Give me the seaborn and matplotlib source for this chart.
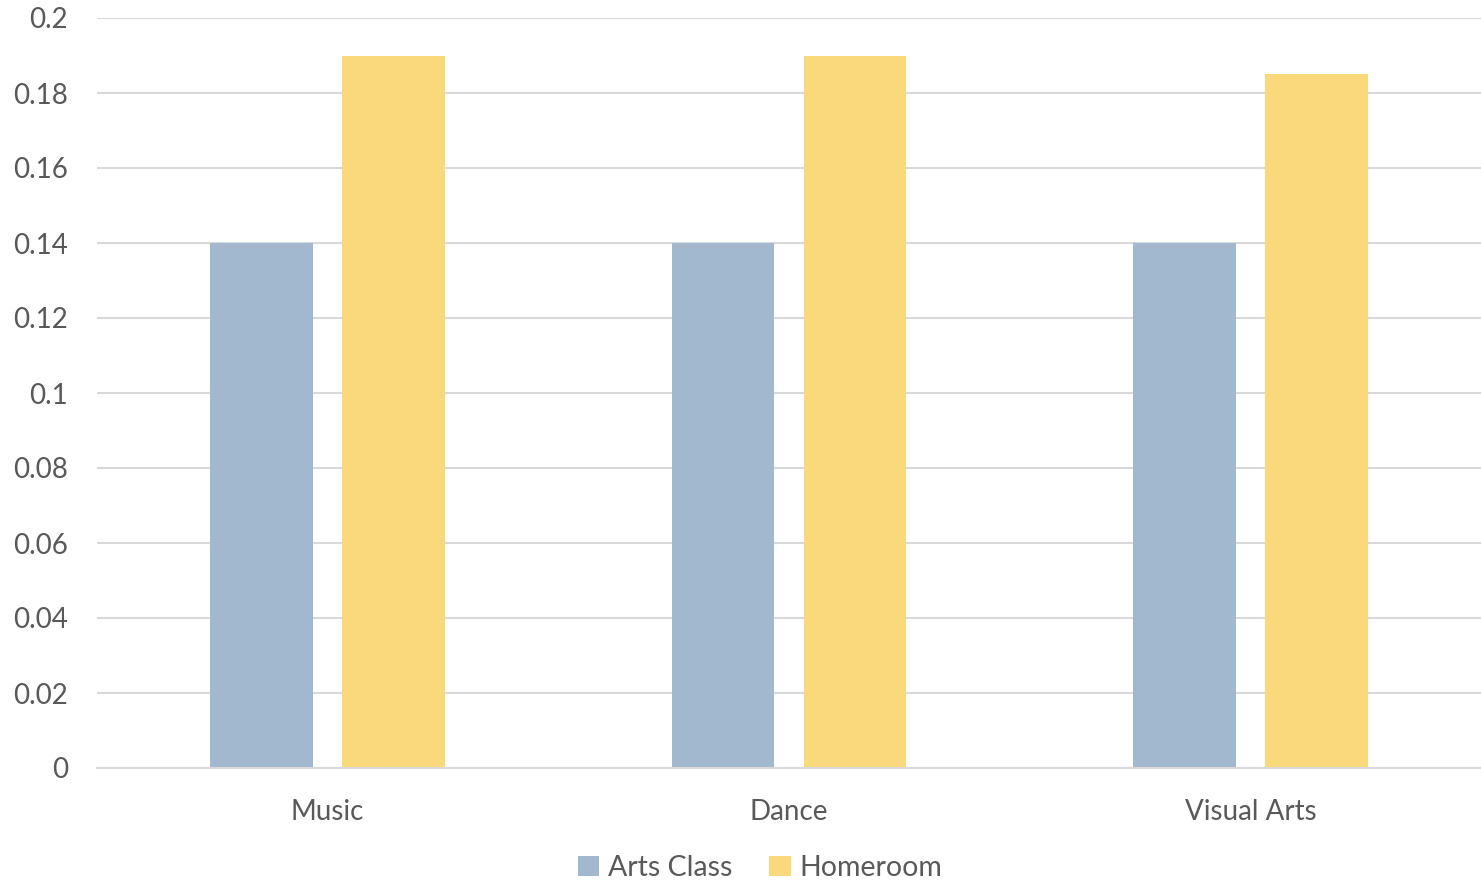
import matplotlib
matplotlib.use("Agg")
import matplotlib.pyplot as plt
import seaborn as sns
import pandas as pd

categories = ["Music", "Dance", "Visual Arts"]
series_names = ["Arts Class", "Homeroom"]
arts_class = [0.14, 0.14, 0.14]
homeroom = [0.19, 0.19, 0.185]
y_ticks = [0, 0.02, 0.04, 0.06, 0.08, 0.1, 0.12, 0.14, 0.16, 0.18, 0.2]
y_tick_labels = ["0", "0.02", "0.04", "0.06", "0.08", "0.1", "0.12", "0.14", "0.16", "0.18", "0.2"]

colors = {"Arts Class": "#A2B8CE", "Homeroom": "#F9D97C"}
text_color = "#595959"
grid_color = "#D9D9D9"

df = pd.DataFrame({
    "category": categories * 2,
    "series": [series_names[0]] * 3 + [series_names[1]] * 3,
    "value": arts_class + homeroom,
})

sns.set_theme(style="white")
plt.rcParams["font.family"] = ["Lato", "DejaVu Sans"]

fig = plt.figure(figsize=(14.81, 8.86), dpi=100)
ax = fig.add_axes([97 / 1481, 1 - 768 / 886, 1384 / 1481, 750 / 886])

sns.barplot(data=df, x="category", y="value", hue="series", palette=colors,
            width=0.572, gap=0.22, saturation=1, linewidth=0, ax=ax, legend=True)

ax.set_xlim(-0.5, 2.5)
ax.set_ylim(0, 0.2)
ax.set_yticks(y_ticks)
ax.set_yticklabels(y_tick_labels)
ax.set_xlabel("")
ax.set_ylabel("")
ax.yaxis.grid(True, color=grid_color, linewidth=1.5)
ax.set_axisbelow(True)
for side in ["top", "right", "left"]:
    ax.spines[side].set_visible(False)
ax.spines["bottom"].set_color(grid_color)
ax.spines["bottom"].set_linewidth(1.5)
ax.tick_params(axis="both", length=0, labelsize=20, colors=text_color)
ax.tick_params(axis="y", pad=21)
ax.tick_params(axis="x", pad=22)

handles, labels = ax.get_legend_handles_labels()
ax.legend(handles, labels, loc="center",
          bbox_to_anchor=((760 - 97) / 1384, -(868 - 768) / 750),
          ncol=2, frameon=False, fontsize=20.5, labelcolor=text_color,
          handlelength=0.75, handleheight=0.75, handletextpad=0.3,
          columnspacing=1.3)

fig.savefig("out.png", dpi=100, facecolor="white")
